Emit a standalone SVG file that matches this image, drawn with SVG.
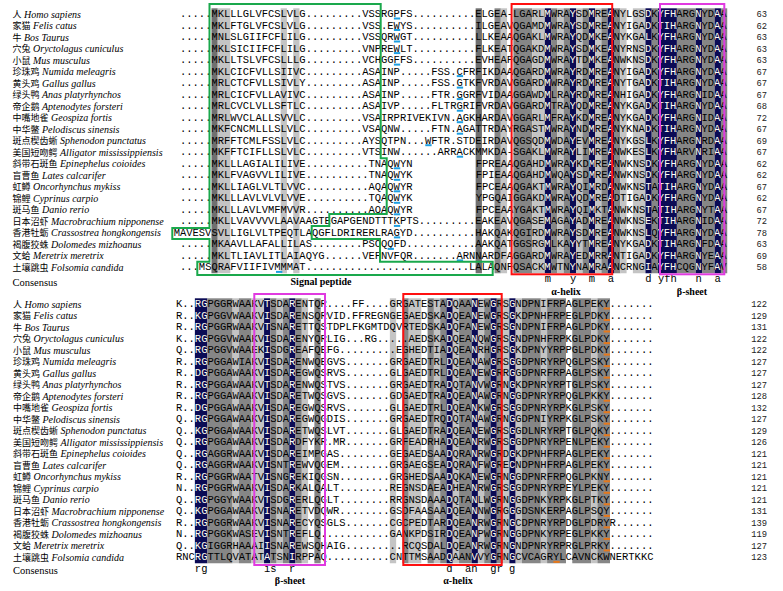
<svg xmlns="http://www.w3.org/2000/svg" width="783" height="591" viewBox="0 0 783 591">
<style>
.s{font-family:"Liberation Mono","DejaVu Sans Mono",monospace;font-size:10.483px}
.nm{font-family:"Liberation Mono",monospace;font-size:8.8px;text-anchor:end;fill:#222}
.cn{font-family:"Noto Sans CJK SC",sans-serif;font-size:9px}
.la{font-family:"Liberation Serif",serif;font-size:10px;font-style:italic}
.lab{font-family:"Liberation Serif",serif;font-size:10.5px;fill:#000}
.lb{font-family:"Liberation Serif",serif;font-size:10px;font-weight:bold;text-anchor:middle;fill:#000}
.N{fill:#0b0b55}.G{fill:#868686}.D{fill:#707070}.L{fill:#c4c4c4}
.bx{fill:none;stroke-width:2}
.bl{fill:#1d9fe2}.or{fill:#e5781c}
</style>
<defs>
<clipPath id="k1">
<rect transform="translate(180 8.3) scale(6.29 11.52)" x="58" width="1" height="23"/>
<rect transform="translate(180 8.3) scale(6.29 11.52)" x="62" width="1" height="23"/>
<rect transform="translate(180 8.3) scale(6.29 11.52)" x="65" width="1" height="23"/>
<rect transform="translate(180 8.3) scale(6.29 11.52)" x="68" width="1" height="23"/>
<rect transform="translate(180 8.3) scale(6.29 11.52)" x="74" width="1" height="23"/>
<rect transform="translate(180 8.3) scale(6.29 11.52)" x="76" width="3" height="23"/>
<rect transform="translate(180 8.3) scale(6.29 11.52)" x="82" width="1" height="23"/>
<rect transform="translate(180 8.3) scale(6.29 11.52)" x="85" width="1" height="23"/>
</clipPath>
<clipPath id="k2">
<rect transform="translate(176 298.3) scale(6.29 11.52)" x="3" width="2" height="23"/>
<rect transform="translate(176 298.3) scale(6.29 11.52)" x="14" width="1" height="23"/>
<rect transform="translate(176 298.3) scale(6.29 11.52)" x="18" width="1" height="23"/>
<rect transform="translate(176 298.3) scale(6.29 11.52)" x="43" width="1" height="23"/>
<rect transform="translate(176 298.3) scale(6.29 11.52)" x="47" width="1" height="23"/>
<rect transform="translate(176 298.3) scale(6.29 11.52)" x="50" width="1" height="23"/>
<rect transform="translate(176 298.3) scale(6.29 11.52)" x="53" width="1" height="23"/>
</clipPath>
</defs>
<rect width="783" height="591" fill="#fff"/>

<g id="shading1" transform="translate(180 8.3) scale(6.29 11.52)">
<rect class="D" x="5" width="1" height="23"/><rect class="D" x="47" width="1" height="23"/>
<rect class="L" x="6" width="2" height="23"/><rect class="L" x="16" width="1" height="23"/><rect class="L" x="18" width="1" height="23"/>
<rect class="G" x="50" width="1" height="23"/><rect class="L" x="51" width="1" height="23"/>
<rect class="G" x="53" width="3" height="23"/><rect class="L" x="56" width="2" height="23"/>
<rect class="N" x="58" width="1" height="23"/><rect class="G" x="59" width="1" height="23"/><rect class="L" x="60" width="1" height="23"/><rect class="G" x="61" width="1" height="23"/>
<rect class="N" x="62" width="1" height="23"/><rect class="L" x="63" width="1" height="23"/><rect class="G" x="64" width="1" height="23"/>
<rect class="N" x="65" width="1" height="23"/><rect class="L" x="66" width="1" height="23"/><rect class="G" x="67" width="1" height="23"/>
<rect class="N" x="68" width="1" height="23"/><rect class="G" x="69" width="1" height="23"/><rect class="L" x="70" width="1" height="23"/>
<rect class="L" x="72" width="2" height="23"/><rect class="N" x="74" width="1" height="23"/><rect class="G" x="75" width="1" height="23"/>
<rect class="N" x="76" width="3" height="23"/><rect class="G" x="79" width="3" height="23"/><rect class="N" x="82" width="1" height="23"/>
<rect class="G" x="83" width="2" height="23"/><rect class="N" x="85" width="1" height="23"/><rect class="G" x="86" width="1" height="23"/>
</g>

<g id="shading2" transform="translate(176 298.3) scale(6.29 11.52)">
<rect class="N" x="3" width="2" height="23"/><rect class="G" x="5" width="4" height="23"/><rect class="L" x="9" width="1" height="23"/>
<rect class="G" x="10" width="2" height="23"/><rect class="L" x="12" width="2" height="23"/><rect class="N" x="14" width="1" height="23"/>
<rect class="G" x="15" width="1" height="23"/><rect class="L" x="16" width="1" height="23"/><rect class="G" x="17" width="1" height="23"/>
<rect class="N" x="18" width="1" height="23"/><rect class="G" x="19" width="1" height="23"/><rect class="L" x="20" width="1" height="23"/>
<rect class="G" x="22" width="1" height="23"/><rect class="L" x="34" width="1" height="23"/><rect class="G" x="36" width="1" height="23"/>
<rect class="L" x="37" width="2" height="23"/><rect class="G" x="40" width="1" height="23"/><rect class="L" x="41" width="1" height="23"/>
<rect class="G" x="42" width="1" height="23"/><rect class="N" x="43" width="1" height="23"/><rect class="L" x="44" width="1" height="23"/>
<rect class="G" x="45" width="2" height="23"/><rect class="N" x="47" width="1" height="23"/><rect class="L" x="48" width="1" height="23"/>
<rect class="G" x="49" width="1" height="23"/><rect class="N" x="50" width="1" height="23"/><rect class="G" x="51" width="1" height="23"/>
<rect class="L" x="52" width="1" height="23"/><rect class="N" x="53" width="1" height="23"/><rect class="L" x="54" width="1" height="23"/>
<rect class="G" x="55" width="3" height="23"/><rect class="L" x="58" width="1" height="23"/><rect class="G" x="59" width="3" height="23"/>
<rect class="G" x="63" width="3" height="23"/><rect class="L" x="66" width="1" height="23"/><rect class="G" x="67" width="2" height="23"/>
</g>

<g fill="#000">
<g id="seq1" class="s">
<text x="180" y="17">.....MKLLLGLVFCSLVLG.........VSSRGPFS..........ELGEA-LGARLMWRAYSDMREANYLGSDKYFHARGNYDAA</text>
<text x="180" y="28.52">.....MKLFTGLVFCSLVLG.........VSS.EWYS..........ILGEAVQGAMDMWRAYSDMREANYIGADKTIHARGNYDAA</text>
<text x="180" y="40.04">.....MNLSLGIIFCFLILG.........VSSQRWGT..........LLKEAAQGAKLMWRAYQDMKEANYKGALKYFHARGNYDAA</text>
<text x="180" y="51.56">.....MKLSICIIFCFLILG.........VNPREWLT..........FLKEATQGAKDMWRAYSDMKEANYRNSDKYFHARGNYDAA</text>
<text x="180" y="63.08">.....MKLLTSLVFCSLLLG.........VCHGGFFS..........EVHEAFQGAGDMWRAYTDMKEANWKNSDKYFHARGNYDAA</text>
<text x="180" y="74.6">.....MKLCICFVLLSIIVC.........ASAINP.....FSS.CFRFIKDAAQGARDMWRAYRDMREANYIGADKYFHARGNYDAA</text>
<text x="180" y="86.12">.....MRLCTCFVLLSIVLY.........ASAINP.....FSS.GTKFVRDAVGGARDMWRAYRDMREANYTGADKTIHARGNYDAA</text>
<text x="180" y="97.64">.....MRLCICFVLLAVIVC.........ASAINP.....FTR.GGRFVIDAAGGAWDMLRAYRDMREANHIGADKYFHARGNIDAA</text>
<text x="180" y="109.16">.....MRLCVCLVLLSFTLC.........ASAIVP.....FLTRGRIFVRDAVGGARDMTRAYQDMREANYKGADKTIHARGNYDAA</text>
<text x="180" y="120.68">.....MRLWVCLALLSVVLC.........VSAIRPRIVEKIVN.AGKHARDAVGGARLMFRAYKDMREANYKGADKYFHARGNIDAA</text>
<text x="180" y="132.2">.....MKFCNCMLLLSLVLC.........VSAQNW.....FTN.AGATTRDAYRGASTMWRAYNDMREANYKNADKTIHARGNYDAA</text>
<text x="180" y="143.72">.....MRFFTCMLFSSLVLC.........AYSQTPN...WFTR.STDEIRDAVQGSQDMWDAYEVMREANYKGSLKYFHARGNRDAA</text>
<text x="180" y="155.24">.....MKFFTCIFLLSLVLC.........VTSINW......ARRACKMMKDA-SGAKLMWRAYLIMREANWKESLKYFHARVNRIAA</text>
<text x="180" y="166.76">.....MKLLLAGIALILIVE..........TNAQWYN</text>
<text x="475.63" y="166.76">FPREAAQGAHDMWRAYKDMREANWKNSDKYFHARGNYDAA</text>
<text x="180" y="178.28">.....MKLFVAGVVLILIVE..........TNAQWYK</text>
<text x="475.63" y="178.28">FPIEAAQGAHDMWQAYSDMREANWKNSDKYFHARGNYDAA</text>
<text x="180" y="189.8">.....MKLLIAGLVLTLVVC..........AQAQWYR</text>
<text x="475.63" y="189.8">FPCEAAQGAKTMWRAYQIMRDANWKNSTATIHARGNYDAA</text>
<text x="180" y="201.32">.....MKLLLAVLVLVLVVE..........TQAQWYK</text>
<text x="475.63" y="201.32">YPGQAIGGAKDMWRAYQDMREADTIGADKYFHARGNYDAA</text>
<text x="180" y="212.84">.....MKLLLAVLVMFMVVR..........AQAQWYR</text>
<text x="475.63" y="212.84">FPCEAAYGAKTMWRAYQIMKTANWKNSTATIHARGNYTAA</text>
<text x="180" y="224.36">.....MKLLVAVVVVLAAVAAGTEGAPGENDTTTKPTS.........EAKEAVQGASEMAGAYADMREANWKNSEKTIHARGNIDAA</text>
<text x="173.71" y="235.88">MAVESVSVLLIGLVLTPEQTLAQGFLDRIRERLRAGYD..........HAKQAKQGIRDMWRAYSDMREANWKNSLQYFHARGNYDAA</text>
<text x="180" y="247.4">.....MKAAVLLAFALLILAS........PSCQQFD...........AAKQATGGSRGMLKAYYTMREANYKGADKTIHARGNFDAA</text>
<text x="180" y="258.92">.....MKLTLIAVLITLAIAQYG......VEFNVFQR.......ARNNARDFAGGARDMWRAYEDMRRANTIGADKYFHARGNYEAA</text>
<text x="180" y="270.44">...MSQRAFVIIFIVMMMAT..........................LALAQNFQSACKMWTNYNAMRAANCRNGIAYFHCQGNYFAV</text>
<text x="544.82" y="282" xml:space="preserve">m   y  m  a     d yfh   n  a</text>
</g>
<g id="seq2" class="s">
<text x="176" y="307">K..RGPGGRWAAKVTSDARENTQR....FF....GRGATESTADQAANEWGRSGNDPNIFRPAGLPEKY.......</text>
<text x="176" y="318.52">R..KGPGGVWAAKVISDARENSQRVID.FFREGNGEGAEDSKADQEANEWGRSGKDPNHFRPEGLPDKY.......</text>
<text x="176" y="330.04">R..RGPGGRWAAKVTSNARETTQSTDPLFKGMTDQVRTEDSKADQFANEWGRSGNDPNIFRPAGLPDKY.......</text>
<text x="176" y="341.56">K..RGPGGVWAAKVISDARENYQRLIG...RG.....AEDSKADQEANQWGRSGNDPNHFRPKGLPDKY.......</text>
<text x="176" y="353.08">Q..RGPGGVWAAEKISDGREAFQEFG.........EGHEDTIADQEANRHGRSGKDPNYYRPPGLPDKY.......</text>
<text x="176" y="364.6">R..RGPGGAWIAKVISDARENWQEGVS.......GRGAEDTRLDQEANAWGRSGGDPNRYRPQGLPSKY.......</text>
<text x="176" y="376.12">R..DGPGGAWAAKVISDAREGWQSRVS.......GLGAEDTRLDQEANEWGRRGGDPNRFRPAGLPSKY.......</text>
<text x="176" y="387.64">R..RGPGGAWAAKVTSDARENWQSTVS.......GRGAEDTRADQTANVWGRNGKDPNRYRPTGLPSKY.......</text>
<text x="176" y="399.16">R..RGPGGAWAAKVISDARETWQSGVS.......GDGAEDTRADQEANAWGRNGGDPNRYRPQGLPKKY.......</text>
<text x="176" y="410.68">R..DGPGGAWAAKVISDAREGWQSRVS.......GLGAEDTRLDQEANKWGRSGGDPNRYRPKGLPSKY.......</text>
<text x="176" y="422.2">Q..RGPGGAWAAKVISDAREGWQGDIS.......GRGAEDTRQDQTANAWGRNGGDPNIYRPKGLPSKY.......</text>
<text x="176" y="433.72">Q..KGPGGAWAAKVISDARETWQSLVT.......GLGAEDTRADQEANEWGRSGGDLNRYRPTGLPQKY.......</text>
<text x="176" y="445.24">Q..RGPGGAWAAKVISDARDFYKR.MR.......GRFEADRHADQEANRWGRSGGDPNRYRPENLPEKY.......</text>
<text x="176" y="456.76">Q..RGAGGRWAAKVISDAREIMPGAS........GEGAEDSAADQRANRWGRDGKDPNHFRPAGLPEKY.......</text>
<text x="176" y="468.28">Q..RGAGGRWAAKVISNTREWVQGEM........GRGAEGSEADQRANFWGRECNDPNHFRPAGLPEKY.......</text>
<text x="176" y="479.8">R..RGPGGRWAATVISNGREKIQGSN........GRGHEDSAADQKANEWGRNGGDPNRFRPQGLPKNY.......</text>
<text x="176" y="491.32">N..RGPGGRWAAKVISDARKALQALT........REGNSDAEADHEANRWGRSGGDPNRYRPEYLPEKY.......</text>
<text x="176" y="502.84">Q..RGPGGYWAAKVTSDGRERLQGLT........RRGNSDAAADQTANLWGRNGGDPNKYRPKGLPTKY.......</text>
<text x="176" y="514.36">Q..KGPGGAWAAKVISNARETVDQWR........GSDFAASAADQEANNWGRGGGDSNKERPAGLPSQY.......</text>
<text x="176" y="525.88">R..RGPGGRWAAKVISNARECYQSGLS.......CGCPEDTARDQEANRWGRNGCDPNRYRPDGLPDRYR......</text>
<text x="176" y="537.4">N..RGPGGKWASEVISNTREFLQ...........GANKPDSIRDQEANPWGRNGGDPNKYRPEGLPKKY.......</text>
<text x="176" y="548.92">Q..KGIGGRHAAAIISNAREWSQHAIG.........RCQSDALDQEANRWGRNGNDPNRYRPRGLPRKY.......</text>
<text x="176" y="560.44">RNCRGTTLQVATATATSNIRPPAQ..........CNTTMSAADQAANVVYGRNGCVCAGRYLCAVNCKWNERTKKC</text>
<text x="194.87" y="571.5" xml:space="preserve">rg         is  r                        d  an  gr g</text>
</g>
</g>
<use href="#seq1" fill="#fff" clip-path="url(#k1)"/>
<use href="#seq2" fill="#fff" clip-path="url(#k2)"/>

<g id="marks">
<rect class="bl" x="393.9" y="17.5" width="6.3" height="2"/><rect class="bl" x="393.9" y="29" width="6.3" height="2"/>
<rect class="bl" x="393.9" y="40.5" width="6.3" height="2"/><rect class="bl" x="393.9" y="52.1" width="6.3" height="2"/>
<rect class="bl" x="393.9" y="63.6" width="6.3" height="2"/><rect class="bl" x="456.8" y="75.1" width="6.3" height="2"/>
<rect class="bl" x="456.8" y="86.6" width="6.3" height="2"/><rect class="bl" x="456.8" y="98.1" width="6.3" height="2"/>
<rect class="bl" x="456.8" y="109.7" width="6.3" height="2"/><rect class="bl" x="456.8" y="121.2" width="6.3" height="2"/>
<rect class="bl" x="456.8" y="132.7" width="6.3" height="2"/><rect class="bl" x="425.3" y="144.2" width="6.3" height="2"/>
<rect class="bl" x="456.8" y="155.7" width="6.3" height="2"/><rect class="bl" x="393.9" y="167.3" width="6.3" height="2"/>
<rect class="bl" x="393.9" y="178.8" width="6.3" height="2"/><rect class="bl" x="393.9" y="190.3" width="6.3" height="2"/>
<rect class="bl" x="393.9" y="201.8" width="6.3" height="2"/><rect class="bl" x="393.9" y="213.3" width="6.3" height="2"/>
<rect class="bl" x="393.9" y="224.9" width="6.3" height="2"/><rect class="bl" x="393.9" y="236.4" width="6.3" height="2"/>
<rect class="bl" x="387.6" y="247.9" width="6.3" height="2"/><rect class="bl" x="456.8" y="259.4" width="6.3" height="2"/>
<rect class="bl" x="276" y="270.9" width="6.3" height="2"/>
<rect class="or" x="603.7" y="307.5" width="6.3" height="2"/><rect class="or" x="603.7" y="319" width="6.3" height="2"/>
<rect class="or" x="603.7" y="330.5" width="6.3" height="2"/><rect class="or" x="603.7" y="342.1" width="6.3" height="2"/>
<rect class="or" x="603.7" y="353.6" width="6.3" height="2"/><rect class="or" x="603.7" y="365.1" width="6.3" height="2"/>
<rect class="or" x="603.7" y="376.6" width="6.3" height="2"/><rect class="or" x="603.7" y="388.1" width="6.3" height="2"/>
<rect class="or" x="603.7" y="399.7" width="6.3" height="2"/><rect class="or" x="603.7" y="411.2" width="6.3" height="2"/>
<rect class="or" x="603.7" y="422.7" width="6.3" height="2"/><rect class="or" x="603.7" y="434.2" width="6.3" height="2"/>
<rect class="or" x="603.7" y="445.7" width="6.3" height="2"/><rect class="or" x="603.7" y="457.3" width="6.3" height="2"/>
<rect class="or" x="603.7" y="468.8" width="6.3" height="2"/><rect class="or" x="603.7" y="480.3" width="6.3" height="2"/>
<rect class="or" x="603.7" y="491.8" width="6.3" height="2"/><rect class="or" x="603.7" y="503.3" width="6.3" height="2"/>
<rect class="or" x="603.7" y="514.9" width="6.3" height="2"/><rect class="or" x="603.7" y="526.4" width="6.3" height="2"/>
<rect class="or" x="603.7" y="537.9" width="6.3" height="2"/><rect class="or" x="603.7" y="549.4" width="6.3" height="2"/>
<rect class="or" x="553.4" y="560.9" width="6.3" height="2"/>
</g>

<g id="boxes">
<path class="bx" stroke="#1aa84c" d="M209.5 4H380.7V158.3H386.7V214H329.3V226H311.7V239H380V261.7H492.7V275H197.3V261.7H209.5V239H172.3V228H209.5Z"/>
<rect class="bx" stroke="#ff1010" x="511.6" y="4" width="100.6" height="270.3"/>
<rect class="bx" stroke="#e03ae0" x="660" y="4" width="64.3" height="270.3"/>
<rect class="bx" stroke="#e03ae0" x="254.3" y="294" width="70.7" height="271"/>
<rect class="bx" stroke="#ff1010" x="403.3" y="294" width="98.4" height="271"/>
</g>

<g id="names1">
<text class="lab" x="12.5" y="17.5"><tspan class="cn">人</tspan><tspan class="la"> Homo sapiens</tspan></text>
<text class="lab" x="12.5" y="29"><tspan class="cn">家猫</tspan><tspan class="la"> Felis catus</tspan></text>
<text class="lab" x="12.5" y="40.5"><tspan class="cn">牛</tspan><tspan class="la"> Bos Taurus</tspan></text>
<text class="lab" x="12.5" y="52.1"><tspan class="cn">穴兔</tspan><tspan class="la"> Oryctolagus cuniculus</tspan></text>
<text class="lab" x="12.5" y="63.6"><tspan class="cn">小鼠</tspan><tspan class="la"> Mus musculus</tspan></text>
<text class="lab" x="12.5" y="75.1"><tspan class="cn">珍珠鸡</tspan><tspan class="la"> Numida meleagris</tspan></text>
<text class="lab" x="12.5" y="86.6"><tspan class="cn">黄头鸡</tspan><tspan class="la"> Gallus gallus</tspan></text>
<text class="lab" x="12.5" y="98.1"><tspan class="cn">绿头鸭</tspan><tspan class="la"> Anas platyrhynchos</tspan></text>
<text class="lab" x="12.5" y="109.7"><tspan class="cn">帝企鹅</tspan><tspan class="la"> Aptenodytes forsteri</tspan></text>
<text class="lab" x="12.5" y="121.2"><tspan class="cn">中嘴地雀</tspan><tspan class="la"> Geospiza fortis</tspan></text>
<text class="lab" x="12.5" y="132.7"><tspan class="cn">中华鳖</tspan><tspan class="la"> Pelodiscus sinensis</tspan></text>
<text class="lab" x="12.5" y="144.2"><tspan class="cn">斑点楔齿蜥</tspan><tspan class="la"> Sphenodon punctatus</tspan></text>
<text class="lab" x="12.5" y="155.7"><tspan class="cn">美国短吻鳄</tspan><tspan class="la"> Alligator mississippiensis</tspan></text>
<text class="lab" x="12.5" y="167.3"><tspan class="cn">斜带石斑鱼</tspan><tspan class="la"> Epinephelus coioides</tspan></text>
<text class="lab" x="12.5" y="178.8"><tspan class="cn">盲曹鱼</tspan><tspan class="la"> Lates calcarifer</tspan></text>
<text class="lab" x="12.5" y="190.3"><tspan class="cn">虹鳟</tspan><tspan class="la"> Oncorhynchus mykiss</tspan></text>
<text class="lab" x="12.5" y="201.8"><tspan class="cn">锦鲤</tspan><tspan class="la"> Cyprinus carpio</tspan></text>
<text class="lab" x="12.5" y="213.3"><tspan class="cn">斑马鱼</tspan><tspan class="la"> Danio rerio</tspan></text>
<text class="lab" x="12.5" y="224.9"><tspan class="cn">日本沼虾</tspan><tspan class="la"> Macrobrachium nipponense</tspan></text>
<text class="lab" x="12.5" y="236.4"><tspan class="cn">香港牡蛎</tspan><tspan class="la"> Crassostrea hongkongensis</tspan></text>
<text class="lab" x="12.5" y="247.9"><tspan class="cn">褐腹狡蛛</tspan><tspan class="la"> Dolomedes mizhoanus</tspan></text>
<text class="lab" x="12.5" y="259.4"><tspan class="cn">文蛤</tspan><tspan class="la"> Meretrix meretrix</tspan></text>
<text class="lab" x="12.5" y="270.9"><tspan class="cn">土壤跳虫</tspan><tspan class="la"> Folsomia candida</tspan></text>
<text class="lab" x="12.5" y="286">Consensus</text>
</g>

<g id="names2">
<text class="lab" x="13" y="307.5"><tspan class="cn">人</tspan><tspan class="la"> Homo sapiens</tspan></text>
<text class="lab" x="13" y="319"><tspan class="cn">家猫</tspan><tspan class="la"> Felis catus</tspan></text>
<text class="lab" x="13" y="330.5"><tspan class="cn">牛</tspan><tspan class="la"> Bos Taurus</tspan></text>
<text class="lab" x="13" y="342.1"><tspan class="cn">穴兔</tspan><tspan class="la"> Oryctolagus cuniculus</tspan></text>
<text class="lab" x="13" y="353.6"><tspan class="cn">小鼠</tspan><tspan class="la"> Mus musculus</tspan></text>
<text class="lab" x="13" y="365.1"><tspan class="cn">珍珠鸡</tspan><tspan class="la"> Numida meleagris</tspan></text>
<text class="lab" x="13" y="376.6"><tspan class="cn">黄头鸡</tspan><tspan class="la"> Gallus gallus</tspan></text>
<text class="lab" x="13" y="388.1"><tspan class="cn">绿头鸭</tspan><tspan class="la"> Anas platyrhynchos</tspan></text>
<text class="lab" x="13" y="399.7"><tspan class="cn">帝企鹅</tspan><tspan class="la"> Aptenodytes forsteri</tspan></text>
<text class="lab" x="13" y="411.2"><tspan class="cn">中嘴地雀</tspan><tspan class="la"> Geospiza fortis</tspan></text>
<text class="lab" x="13" y="422.7"><tspan class="cn">中华鳖</tspan><tspan class="la"> Pelodiscus sinensis</tspan></text>
<text class="lab" x="13" y="434.2"><tspan class="cn">斑点楔齿蜥</tspan><tspan class="la"> Sphenodon punctatus</tspan></text>
<text class="lab" x="13" y="445.7"><tspan class="cn">美国短吻鳄</tspan><tspan class="la"> Alligator mississippiensis</tspan></text>
<text class="lab" x="13" y="457.3"><tspan class="cn">斜带石斑鱼</tspan><tspan class="la"> Epinephelus coioides</tspan></text>
<text class="lab" x="13" y="468.8"><tspan class="cn">盲曹鱼</tspan><tspan class="la"> Lates calcarifer</tspan></text>
<text class="lab" x="13" y="480.3"><tspan class="cn">虹鳟</tspan><tspan class="la"> Oncorhynchus mykiss</tspan></text>
<text class="lab" x="13" y="491.8"><tspan class="cn">锦鲤</tspan><tspan class="la"> Cyprinus carpio</tspan></text>
<text class="lab" x="13" y="503.3"><tspan class="cn">斑马鱼</tspan><tspan class="la"> Danio rerio</tspan></text>
<text class="lab" x="13" y="514.9"><tspan class="cn">日本沼虾</tspan><tspan class="la"> Macrobrachium nipponense</tspan></text>
<text class="lab" x="13" y="526.4"><tspan class="cn">香港牡蛎</tspan><tspan class="la"> Crassostrea hongkongensis</tspan></text>
<text class="lab" x="13" y="537.9"><tspan class="cn">褐腹狡蛛</tspan><tspan class="la"> Dolomedes mizhoanus</tspan></text>
<text class="lab" x="13" y="549.4"><tspan class="cn">文蛤</tspan><tspan class="la"> Meretrix meretrix</tspan></text>
<text class="lab" x="13" y="560.9"><tspan class="cn">土壤跳虫</tspan><tspan class="la"> Folsomia candida</tspan></text>
<text class="lab" x="13" y="573.5">Consensus</text>
</g>

<g id="numbers">
<text class="nm" x="767" y="17">63</text><text class="nm" x="767" y="28.52">62</text><text class="nm" x="767" y="40.04">63</text>
<text class="nm" x="767" y="51.56">63</text><text class="nm" x="767" y="63.08">63</text><text class="nm" x="767" y="74.6">67</text>
<text class="nm" x="767" y="86.12">67</text><text class="nm" x="767" y="97.64">67</text><text class="nm" x="767" y="109.16">68</text>
<text class="nm" x="767" y="120.68">72</text><text class="nm" x="767" y="132.2">67</text><text class="nm" x="767" y="143.72">69</text>
<text class="nm" x="767" y="155.24">67</text><text class="nm" x="767" y="166.76">62</text><text class="nm" x="767" y="178.28">62</text>
<text class="nm" x="767" y="189.8">67</text><text class="nm" x="767" y="201.32">62</text><text class="nm" x="767" y="212.84">67</text>
<text class="nm" x="767" y="224.36">72</text><text class="nm" x="767" y="235.88">78</text><text class="nm" x="767" y="247.4">63</text>
<text class="nm" x="767" y="258.92">69</text><text class="nm" x="767" y="270.44">58</text>
<text class="nm" x="767" y="307">122</text><text class="nm" x="767" y="318.52">129</text><text class="nm" x="767" y="330.04">131</text>
<text class="nm" x="767" y="341.56">122</text><text class="nm" x="767" y="353.08">122</text><text class="nm" x="767" y="364.6">127</text>
<text class="nm" x="767" y="376.12">127</text><text class="nm" x="767" y="387.64">127</text><text class="nm" x="767" y="399.16">128</text>
<text class="nm" x="767" y="410.68">132</text><text class="nm" x="767" y="422.2">127</text><text class="nm" x="767" y="433.72">129</text>
<text class="nm" x="767" y="445.24">126</text><text class="nm" x="767" y="456.76">121</text><text class="nm" x="767" y="468.28">121</text>
<text class="nm" x="767" y="479.8">121</text><text class="nm" x="767" y="491.32">121</text><text class="nm" x="767" y="502.84">121</text>
<text class="nm" x="767" y="514.36">131</text><text class="nm" x="767" y="525.88">139</text><text class="nm" x="767" y="537.4">119</text>
<text class="nm" x="767" y="548.92">127</text><text class="nm" x="767" y="560.44">123</text>
</g>

<g id="labels">
<text class="lb" x="321" y="285">Signal peptide</text>
<text class="lb" x="566" y="295">α-helix</text>
<text class="lb" x="692" y="295">β-sheet</text>
<text class="lb" x="290" y="584">β-sheet</text>
<text class="lb" x="458" y="584">α-helix</text>
</g>
</svg>
